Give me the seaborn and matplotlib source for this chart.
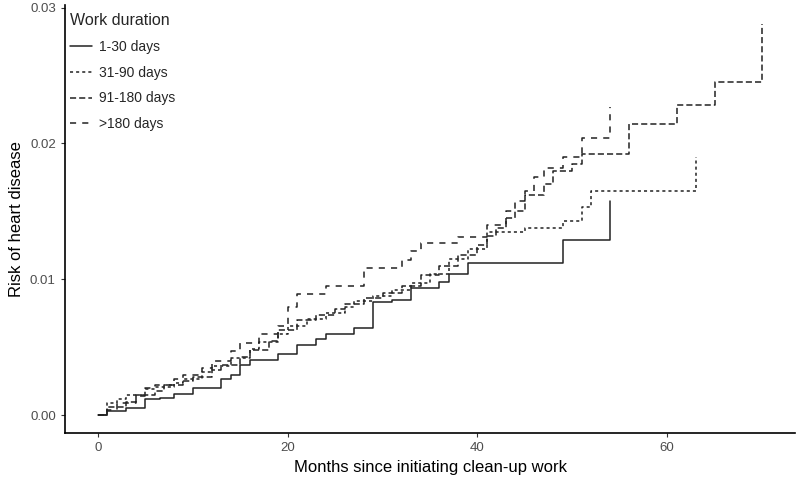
import pandas as pd
import matplotlib
matplotlib.use("Agg")
import matplotlib.pyplot as plt
import seaborn as sns

# cumulative risk step curves by work duration
t_1_30 = [0, 1, 3, 5, 6.5, 8, 10, 13, 14, 15, 16, 19, 21, 23, 24, 27, 29, 31, 33, 36, 37, 39, 49, 54]
r_1_30 = [0, 0.0003, 0.0005, 0.0012, 0.0013, 0.0016, 0.0020, 0.0027, 0.0030, 0.0037, 0.0041,
          0.0045, 0.0052, 0.0056, 0.0060, 0.0064, 0.0083, 0.0085, 0.0094, 0.0098, 0.0104,
          0.0112, 0.0129, 0.0158]

t_31_90 = [0, 1, 2, 3, 5, 6, 8, 9, 11, 12, 14, 16, 17, 19, 20, 22, 24, 26, 27, 29, 31, 33,
           35, 37, 39, 41, 45, 49, 51, 52, 63]
r_31_90 = [0, 0.0009, 0.0012, 0.0015, 0.0019, 0.0021, 0.0024, 0.0027, 0.0032, 0.0036, 0.0042,
           0.0049, 0.0054, 0.0060, 0.0066, 0.0071, 0.0075, 0.0080, 0.0084, 0.0088, 0.0092,
           0.0097, 0.0104, 0.0115, 0.0122, 0.0135, 0.0138, 0.0143, 0.0153, 0.0165, 0.0190]

t_91_180 = [0, 1, 3, 4, 6, 7, 9, 10, 12, 13, 15, 16, 18, 19, 21, 23, 25, 26, 28, 30, 32, 34,
            36, 38, 40, 41, 42, 43, 44, 45, 47, 48, 50, 51, 56, 61, 65, 70]
r_91_180 = [0, 0.0006, 0.0010, 0.0015, 0.0018, 0.0022, 0.0025, 0.0028, 0.0033, 0.0037, 0.0043,
            0.0048, 0.0055, 0.0063, 0.0070, 0.0074, 0.0078, 0.0082, 0.0086, 0.0090, 0.0095,
            0.0103, 0.0110, 0.0118, 0.0125, 0.0132, 0.0138, 0.0145, 0.0150, 0.0162, 0.0170,
            0.0180, 0.0185, 0.0192, 0.0214, 0.0228, 0.0245, 0.0288]

t_180 = [0, 1, 2, 4, 5, 6, 8, 9, 11, 12, 14, 15, 17, 19, 20, 21, 24, 28, 32, 33, 34, 38, 41,
         43, 44, 45, 46, 47, 49, 51, 54]
r_180 = [0, 0.0004, 0.0009, 0.0014, 0.0020, 0.0022, 0.0027, 0.0030, 0.0035, 0.0040, 0.0047,
         0.0053, 0.0060, 0.0066, 0.0080, 0.0089, 0.0095, 0.0108, 0.0114, 0.0121, 0.0127,
         0.0131, 0.0140, 0.0150, 0.0158, 0.0165, 0.0175, 0.0182, 0.0190, 0.0204, 0.0227]

groups = ["1-30 days", "31-90 days", "91-180 days", ">180 days"]
series = [(t_1_30, r_1_30), (t_31_90, r_31_90), (t_91_180, r_91_180), (t_180, r_180)]

frames = []
for g, (t, r) in zip(groups, series):
    frames.append(pd.DataFrame({"month": t, "risk": r, "group": g}))
df = pd.concat(frames, ignore_index=True)

sns.set_style("white")
plt.rcParams["font.family"] = ["Liberation Sans", "DejaVu Sans"]

fig = plt.figure(figsize=(8, 4.8), dpi=100)
ax = fig.add_axes([0.081, 0.098, 0.913, 0.892])

dash_map = {"1-30 days": "", "31-90 days": (2, 2), "91-180 days": (4, 2), ">180 days": (4, 4)}
sns.lineplot(data=df, x="month", y="risk", hue="group", style="group",
             hue_order=groups, style_order=groups,
             palette=["#222222"] * 4, dashes=dash_map,
             estimator=None, sort=False, drawstyle="steps-post",
             linewidth=1.1, ax=ax)

ax.set_xlim(-3.5, 73.5)
ax.set_ylim(-0.0013, 0.0302)
ax.set_xticks([0, 20, 40, 60])
ax.set_yticks([0.0, 0.01, 0.02, 0.03])
ax.set_yticklabels(["0.00", "0.01", "0.02", "0.03"])
ax.tick_params(axis="both", length=3, width=0.8, color="#333333",
               labelsize=9.5, labelcolor="#4D4D4D", bottom=True, left=True)
ax.set_xlabel("Months since initiating clean-up work", fontsize=12, color="black")
ax.set_ylabel("Risk of heart disease", fontsize=12, color="black")

for s in ["top", "right"]:
    ax.spines[s].set_visible(False)
for s in ["left", "bottom"]:
    ax.spines[s].set_color("black")
    ax.spines[s].set_linewidth(1.2)

leg = ax.legend(loc="upper left", bbox_to_anchor=(-0.01, 1.01), frameon=False,
                title="Work duration", fontsize=10, title_fontsize=11.5,
                handlelength=1.6, handletextpad=0.5, labelspacing=0.85, alignment="left")
for line in leg.get_lines():
    line.set_linewidth(1.1)

fig.savefig("out.png", dpi=100)
